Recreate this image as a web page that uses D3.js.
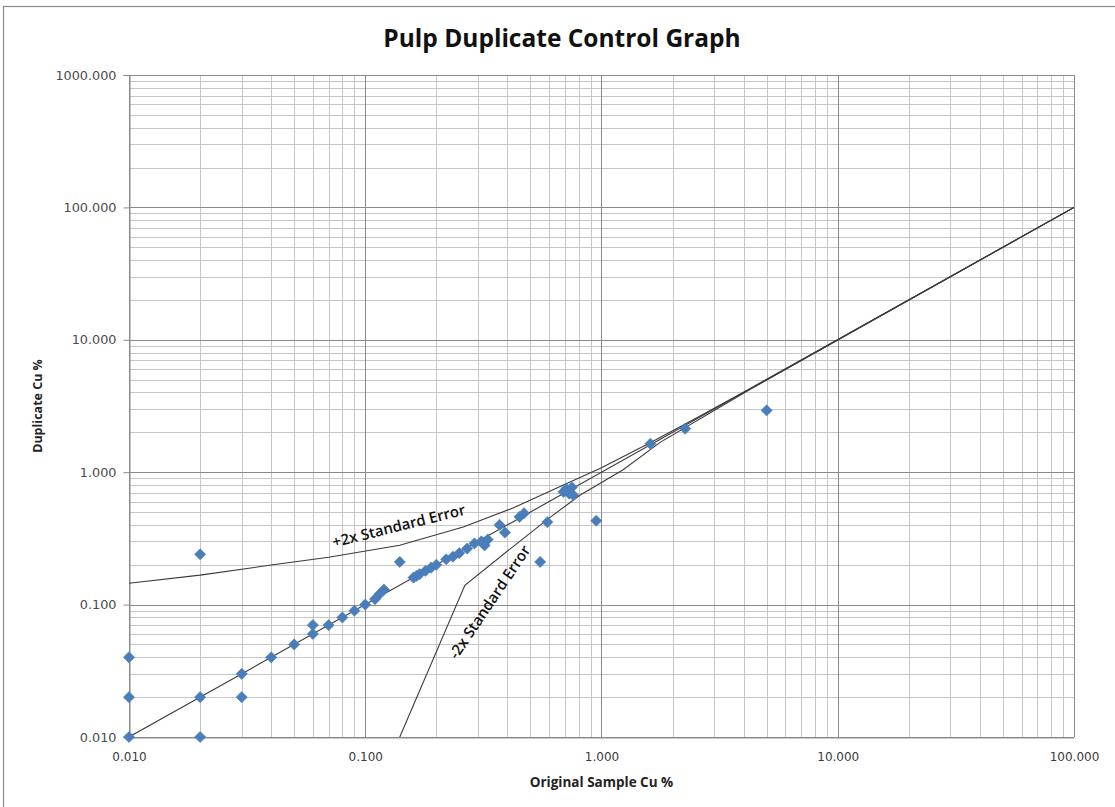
<!DOCTYPE html>
<html>
<head>
<meta charset="utf-8">
<script src="https://cdn.jsdelivr.net/npm/d3@7"></script>
<style>
  html, body { margin: 0; padding: 0; background: #fff; }
  svg { display: block; }
</style>
</head>
<body>
<svg id="chart" width="1115" height="807"></svg>
<script>
// Pulp duplicate pairs: original assay vs duplicate assay (Cu %)
const originalCu = [
  0.01, 0.01, 0.01, 0.02, 0.02, 0.02, 0.03, 0.03, 0.04, 0.05,
  0.06, 0.06, 0.07, 0.08, 0.09, 0.10, 0.11, 0.115, 0.12, 0.14,
  0.16, 0.165, 0.17, 0.18, 0.19, 0.20, 0.22, 0.235, 0.25, 0.27,
  0.29, 0.31, 0.32, 0.33, 0.37, 0.39, 0.45, 0.47, 0.55, 0.59,
  0.69, 0.71, 0.73, 0.75, 0.76, 0.95, 1.61, 2.26, 5.00
];
const duplicateCu = [
  0.04, 0.02, 0.01, 0.24, 0.02, 0.01, 0.03, 0.02, 0.04, 0.05,
  0.07, 0.06, 0.07, 0.08, 0.09, 0.10, 0.11, 0.12, 0.13, 0.21,
  0.16, 0.165, 0.17, 0.18, 0.19, 0.20, 0.22, 0.23, 0.245, 0.265,
  0.29, 0.30, 0.28, 0.31, 0.40, 0.35, 0.46, 0.49, 0.21, 0.42,
  0.71, 0.75, 0.69, 0.77, 0.67, 0.43, 1.64, 2.13, 2.93
];

// Reference lines: 1:1 and the ±2x standard error envelope
const equalityX = [0.01, 100];
const equalityY = [0.01, 100];
const upperX = [0.01, 0.02, 0.04, 0.07, 0.14, 0.26, 0.42, 0.69, 1.0, 1.6, 2.4, 4.3, 100];
const upperY = [0.145, 0.167, 0.199, 0.228, 0.281, 0.385, 0.535, 0.80, 1.08, 1.66, 2.45, 4.33, 100];
const lowerX = [0.14, 0.264, 0.42, 0.60, 0.81, 1.23, 1.77, 4.3, 100];
const lowerY = [0.01, 0.14, 0.272, 0.45, 0.67, 1.04, 1.68, 4.27, 100];

// Axis ticks
const xTicks = [0.01, 0.1, 1, 10, 100];
const yTicks = [0.01, 0.1, 1, 10, 100, 1000];
const tickFormat = d3.format(".3f");

const svg = d3.select("#chart");
const W = 1115, H = 807;
const plot = { left: 129, right: 1074, top: 75, bottom: 737 };

const x = d3.scaleLog().domain([0.01, 100]).range([plot.left, plot.right]);
const y = d3.scaleLog().domain([0.01, 1000]).range([plot.bottom, plot.top]);

// Chart area frame
svg.append("rect")
  .attr("x", 3.5).attr("y", 6.5)
  .attr("width", W + 20).attr("height", H + 20)
  .attr("fill", "#fff").attr("stroke", "#8c8c8c").attr("stroke-width", 1.2);

// Title
svg.append("text")
  .attr("x", 562).attr("y", 47)
  .attr("text-anchor", "middle")
  .attr("font-family", "'Open Sans', 'Liberation Sans', sans-serif")
  .attr("font-weight", "bold")
  .attr("font-size", 24.5)
  .attr("fill", "#111")
  .text("Pulp Duplicate Control Graph");

// Gridlines (minor then major)
function logSubTicks(domain) {
  const out = [];
  for (let e = Math.log10(domain[0]); e < Math.log10(domain[1]); e++) {
    for (let m = 2; m <= 9; m++) out.push(m * Math.pow(10, e));
  }
  return out;
}
const grid = svg.append("g").attr("shape-rendering", "crispEdges");
grid.selectAll("line.vminor").data(logSubTicks(x.domain())).join("line")
  .attr("x1", d => Math.round(x(d)) + 0.5).attr("x2", d => Math.round(x(d)) + 0.5)
  .attr("y1", plot.top).attr("y2", plot.bottom)
  .attr("stroke", "#c6c6c6").attr("stroke-width", 1);
grid.selectAll("line.hminor").data(logSubTicks(y.domain())).join("line")
  .attr("y1", d => Math.round(y(d)) + 0.5).attr("y2", d => Math.round(y(d)) + 0.5)
  .attr("x1", plot.left).attr("x2", plot.right)
  .attr("stroke", "#c6c6c6").attr("stroke-width", 1);
grid.selectAll("line.vmajor").data(xTicks).join("line")
  .attr("x1", d => Math.round(x(d)) + 0.5).attr("x2", d => Math.round(x(d)) + 0.5)
  .attr("y1", plot.top).attr("y2", plot.bottom)
  .attr("stroke", "#8a8a8a").attr("stroke-width", 1);
grid.selectAll("line.hmajor").data(yTicks).join("line")
  .attr("y1", d => Math.round(y(d)) + 0.5).attr("y2", d => Math.round(y(d)) + 0.5)
  .attr("x1", plot.left).attr("x2", plot.right)
  .attr("stroke", "#8a8a8a").attr("stroke-width", 1);

// Axes
const xAxis = d3.axisBottom(x).tickValues(xTicks).tickFormat(tickFormat).tickSize(0).tickPadding(15);
const yAxis = d3.axisLeft(y).tickValues(yTicks).tickFormat(tickFormat).tickSize(6).tickPadding(7);

const gx = svg.append("g").attr("transform", `translate(0,${plot.bottom + 0.5})`).call(xAxis);
const gy = svg.append("g").attr("transform", `translate(${plot.left + 0.5},0)`).call(yAxis);
[gx, gy].forEach(g => {
  g.select(".domain").attr("stroke", "#8a8a8a");
  g.selectAll(".tick line").attr("stroke", "#8a8a8a");
  g.selectAll("text")
    .attr("font-family", "'DejaVu Sans', 'Liberation Sans', sans-serif")
    .attr("fill", "#3a3a3a");
});
gx.selectAll("text").attr("font-size", 12);
gy.selectAll("text").attr("font-size", 12.8).attr("fill", "#4a4a4a");

// Axis titles
svg.append("text")
  .attr("x", (plot.left + plot.right) / 2).attr("y", 787)
  .attr("text-anchor", "middle")
  .attr("font-family", "'Open Sans', 'Liberation Sans', sans-serif")
  .attr("font-weight", "bold").attr("font-size", 13.5).attr("fill", "#222")
  .text("Original Sample Cu %");
svg.append("text")
  .attr("transform", `translate(42,${(plot.top + plot.bottom) / 2}) rotate(-90)`)
  .attr("text-anchor", "middle")
  .attr("font-family", "'Open Sans', 'Liberation Sans', sans-serif")
  .attr("font-weight", "bold").attr("font-size", 12.5).attr("fill", "#222")
  .text("Duplicate Cu %");

// Reference lines
svg.append("clipPath").attr("id", "plotClip")
  .append("rect").attr("x", plot.left).attr("y", plot.top)
  .attr("width", plot.right - plot.left).attr("height", plot.bottom - plot.top);

const line = d3.line().x(d => x(d[0])).y(d => y(d[1]));
const lines = svg.append("g").attr("clip-path", "url(#plotClip)")
  .attr("fill", "none").attr("stroke", "#3a3a3a").attr("stroke-width", 1.1);
lines.append("path").attr("d", line(d3.zip(equalityX, equalityY)));
lines.append("path").attr("d", line(d3.zip(upperX, upperY)));
lines.append("path").attr("d", line(d3.zip(lowerX, lowerY)));

// Line annotations
svg.append("text")
  .attr("transform", "translate(400,531) rotate(-14)")
  .attr("text-anchor", "middle")
  .attr("font-family", "'Open Sans', 'Liberation Sans', sans-serif")
  .attr("font-weight", 600)
  .attr("font-size", 15).attr("fill", "#111")
  .text("+2x Standard Error");
svg.append("text")
  .attr("transform", "translate(494,605) rotate(-56)")
  .attr("text-anchor", "middle")
  .attr("font-family", "'Open Sans', 'Liberation Sans', sans-serif")
  .attr("font-weight", 600)
  .attr("font-size", 15).attr("fill", "#111")
  .text("-2x Standard Error");

// Sample pairs as diamonds
const diamond = d3.symbol().type(d3.symbolDiamond2).size(80);
svg.append("g").selectAll("path")
  .data(d3.zip(originalCu, duplicateCu))
  .join("path")
  .attr("transform", d => `translate(${x(d[0])},${y(d[1])})`)
  .attr("d", diamond)
  .attr("fill", "#4a7ebb")
  .attr("stroke", "#4a7ebb").attr("stroke-width", 0.6);
</script>
</body>
</html>
